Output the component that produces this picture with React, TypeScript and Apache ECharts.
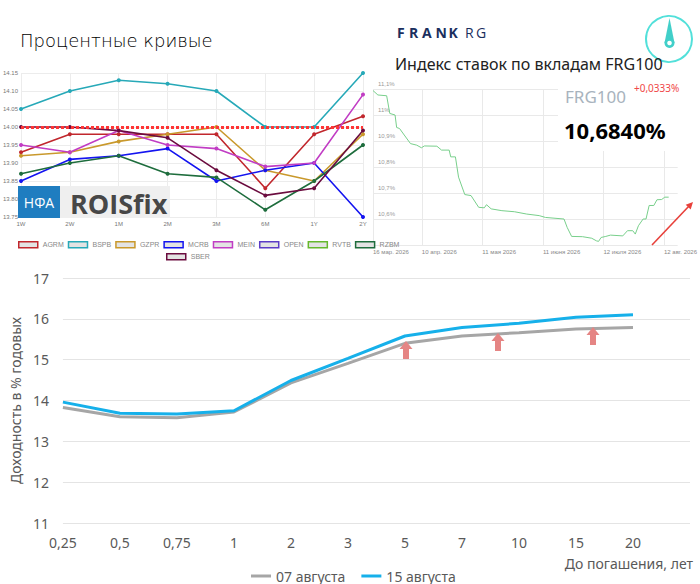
import React, { useEffect, useRef } from "react";
import * as echarts from "echarts";

// ---- Top-left: interest curves (ROISfix) ----
const tenors = ["1W", "2W", "1M", "2M", "3M", "6M", "1Y", "2Y"];
const agrm = [13.93, 13.98, 13.98, 13.98, 13.98, 13.83, 13.98, 14.03];
const bspb = [14.05, 14.1, 14.13, 14.12, 14.1, 14.0, 14.0, 14.15];
const gzpr = [13.92, 13.93, 13.96, 13.98, 14.0, 13.88, 13.85, 13.98];
const mcrb = [13.85, 13.91, 13.92, 13.94, 13.85, 13.88, 13.9, 13.75];
const mein = [13.95, 13.93, 13.99, 13.95, 13.94, 13.89, 13.9, 14.09];
const openB: number[] = [];
const rvtb: number[] = [];
const rzbm = [13.87, 13.9, 13.92, 13.87, 13.86, 13.77, 13.85, 13.95];
const sber = [14.0, 14.0, 13.99, 13.97, 13.88, 13.81, 13.83, 13.99];
const bankNames = ["AGRM", "BSPB", "GZPR", "MCRB", "MEIN", "OPEN", "RVTB", "RZBM", "SBER"];
const bankColors = ["#c1272d", "#27a9b8", "#c9992c", "#1414f0", "#c13dc4", "#5b3bc6", "#66b82d", "#1e6d3d", "#6b0c3f"];
const bankSeries = [agrm, bspb, gzpr, mcrb, mein, openB, rvtb, rzbm, sber];
const keyRate = 14.0;

// ---- Top-right: FRG100 deposit rate index ----
const frgDays = [0, 2.5, 7, 8.6, 11.3, 12.1, 13.6, 16, 19.2, 22.4, 24.8, 26.3, 32.7, 35.1, 39, 39.8, 42.2, 43.8, 47, 50.2, 54.1, 57, 58.1, 60.5, 66, 72.4, 78.7, 85.1, 88.3, 97.8, 99.4, 101.7, 107.3, 112, 114.4, 115.5, 116.8, 119.2, 121.6, 127.9, 130.3, 133, 134.3, 135.9, 138.3, 139.8, 141.4, 143.8, 145.4, 147.8, 149.4, 151.4];
const frgValues = [11.094, 11.077, 11.074, 11.006, 11.0, 10.952, 10.948, 10.923, 10.89, 10.884, 10.874, 10.881, 10.88, 10.865, 10.865, 10.839, 10.839, 10.761, 10.694, 10.69, 10.645, 10.643, 10.655, 10.639, 10.632, 10.628, 10.619, 10.613, 10.606, 10.6, 10.568, 10.533, 10.532, 10.526, 10.516, 10.514, 10.529, 10.533, 10.538, 10.535, 10.555, 10.555, 10.542, 10.574, 10.6, 10.6, 10.652, 10.652, 10.674, 10.675, 10.684, 10.684];
const frgTickDays = [0, 25, 56, 87, 118, 149];
const frgTickLabels = ["16 мар. 2026", "10 апр. 2026", "11 мая 2026", "11 июня 2026", "12 июля 2026", "12 авг. 2026"];

// ---- Bottom: yield curves ----
const maturities = ["0,25", "0,5", "0,75", "1", "2", "3", "5", "7", "10", "15", "20", ""];
const aug07 = [13.83, 13.6, 13.58, 13.72, 14.43, 14.91, 15.4, 15.58, 15.66, 15.75, 15.79];
const aug15 = [13.96, 13.69, 13.67, 13.75, 14.49, 15.03, 15.58, 15.79, 15.89, 16.04, 16.1];

const upArrow = (cx: number, top: number, bottom: number) => ({
  type: "polygon",
  z: 100,
  shape: {
    points: [
      [cx, top],
      [cx + 6.5, top + 8],
      [cx + 3, top + 8],
      [cx + 3, bottom],
      [cx - 3, bottom],
      [cx - 3, top + 8],
      [cx - 6.5, top + 8],
    ],
  },
  style: { fill: "#e58584" },
});

const frankLetters = [
  ["F", 397, true], ["R", 409, true], ["A", 422, true], ["N", 435.5, true], ["K", 448.5, true],
  ["R", 465, false], ["G", 476, false],
] as [string, number, boolean][];

const legendItem = (name: string) => {
  const i = bankNames.indexOf(name);
  return {
    name,
    icon: "rect",
    itemStyle: { color: "#e3e3e3", borderColor: bankColors[i], borderWidth: 1.5 },
  };
};

export default function App() {
  const ref = useRef<HTMLDivElement>(null);
  useEffect(() => {
    if (!ref.current) return;
    const chart = echarts.init(ref.current, undefined, { renderer: "svg" });
    const small = "Liberation Sans";
    const option: any = {
      animation: false,
      backgroundColor: "#ffffff",
      textStyle: { fontFamily: "Noto Sans" },
      grid: [
        { left: 20, top: 73, width: 343, height: 144 },
        { left: 373, top: 89, right: 0, height: 156 },
        { left: 57, top: 278, width: 633, height: 245 },
      ],
      xAxis: [
        {
          gridIndex: 0, type: "category", boundaryGap: false, data: tenors,
          axisLine: { show: false }, axisTick: { show: false },
          axisLabel: { fontSize: 6, color: "#777", margin: 4, fontFamily: small },
          splitLine: { show: true, lineStyle: { color: "#ececec" } },
        },
        {
          gridIndex: 1, type: "value", min: 0, max: 156,
          axisLine: { show: false },
          axisTick: { show: false, customValues: frgTickDays },
          axisLabel: {
            customValues: frgTickDays, fontSize: 6, color: "#888", align: "left", margin: 4, fontFamily: small,
            formatter: (v: number) => {
              const i = frgTickDays.indexOf(Math.round(v));
              return i >= 0 ? frgTickLabels[i] : "";
            },
          },
          splitLine: { show: true, lineStyle: { color: "#e9e9e9" } },
        },
        {
          gridIndex: 2, type: "category", boundaryGap: false, data: maturities,
          axisLine: { show: false }, axisTick: { show: false },
          axisLabel: { fontSize: 14, color: "#595959", margin: 12, interval: 0 },
          splitLine: { show: false },
        },
      ],
      yAxis: [
        {
          gridIndex: 0, type: "value", min: 13.75, max: 14.15, interval: 0.05,
          axisLine: { show: false }, axisTick: { show: false },
          axisLabel: { fontSize: 6, color: "#777", margin: 3, fontFamily: small, formatter: (v: number) => v.toFixed(2) },
          splitLine: { show: true, lineStyle: { color: "#ececec" } },
        },
        {
          gridIndex: 1, type: "value", min: 10.5, max: 11.1, interval: 0.1,
          axisLine: { show: false }, axisTick: { show: false },
          axisLabel: {
            inside: true, fontSize: 6, color: "#9a9a9a", margin: 5, verticalAlign: "bottom", padding: [0, 0, 2, 0], fontFamily: small,
            formatter: (v: number) => {
              if (Math.abs(v - 10.5) < 1e-6) return "";
              let s = v.toFixed(1).replace(".", ",");
              if (s.endsWith(",0")) s = s.slice(0, -2);
              return s + "%";
            },
          },
          splitLine: { show: true, lineStyle: { color: "#e9e9e9" } },
        },
        {
          gridIndex: 2, type: "value", min: 11, max: 17, interval: 1,
          axisLine: { show: false }, axisTick: { show: false },
          axisLabel: { fontSize: 14, color: "#595959", margin: 14 },
          splitLine: { show: true, lineStyle: { color: "#e4e4e4", width: 1 } },
          name: "Доходность в % годовых", nameLocation: "middle", nameGap: 32,
          nameTextStyle: { fontSize: 14, color: "#595959" },
        },
      ],
      legend: [
        {
          data: bankNames.slice(0, 8).map(legendItem), left: 13, top: 236,
          itemWidth: 19, itemHeight: 6, itemGap: 4,
          textStyle: { fontSize: 7, color: "#888", fontFamily: small },
        },
        {
          data: ["SBER"].map(legendItem), left: 161, top: 248,
          itemWidth: 19, itemHeight: 6, itemGap: 4,
          textStyle: { fontSize: 7, color: "#888", fontFamily: small },
        },
        {
          data: ["07 августа", "15 августа"], left: 246, top: 564, icon: "rect",
          itemWidth: 20, itemHeight: 3, itemGap: 16,
          textStyle: { fontSize: 14, color: "#595959" },
        },
      ],
      series: [
        ...bankNames.map((name, i) => ({
          name, type: "line", xAxisIndex: 0, yAxisIndex: 0, data: bankSeries[i],
          color: bankColors[i], symbol: "circle", symbolSize: 4,
          lineStyle: { width: 1.6, color: bankColors[i] },
          itemStyle: { color: bankColors[i] },
          ...(i === 0
            ? {
                markLine: {
                  silent: true, symbol: "none", label: { show: false },
                  data: [{ yAxis: keyRate }],
                  lineStyle: { color: "#ff3434", width: 3, type: [3, 2] },
                },
              }
            : {}),
        })),
        {
          name: "FRG100", type: "line", xAxisIndex: 1, yAxisIndex: 1,
          data: frgDays.map((d, i) => [d, frgValues[i]]),
          symbol: "none", lineStyle: { width: 1, color: "#78cf8b" }, color: "#78cf8b",
        },
        {
          name: "07 августа", type: "line", xAxisIndex: 2, yAxisIndex: 2, data: aug07,
          symbol: "none", color: "#a6a6a6", lineStyle: { width: 3, color: "#a6a6a6" },
        },
        {
          name: "15 августа", type: "line", xAxisIndex: 2, yAxisIndex: 2, data: aug15,
          symbol: "none", color: "#16b0ea", lineStyle: { width: 3, color: "#16b0ea" },
        },
      ],
      graphic: [
        {
          type: "text", left: 20, top: 31, z: 100,
          style: { text: "Процентные кривые", fontSize: 18, fontWeight: 300, fill: "#000", fontFamily: "DejaVu Sans" },
        },
        { type: "rect", z: 100, shape: { x: 18, y: 186, width: 42, height: 32 }, style: { fill: "#1f7dc0" } },
        {
          type: "text", z: 101, x: 39, y: 202,
          style: { text: "НФА", fontSize: 14, fill: "#fff", align: "center", verticalAlign: "middle", fontFamily: "Open Sans" },
        },
        { type: "rect", z: 100, shape: { x: 60, y: 186, width: 110, height: 32 }, style: { fill: "#efefef" } },
        {
          type: "text", z: 101, x: 70, y: 203,
          style: { text: "ROISfix", fontSize: 27, fontWeight: "bold", fill: "#474747", verticalAlign: "middle", fontFamily: "Open Sans" },
        },
        ...frankLetters.map(([ch, x, bold]) => ({
          type: "text", z: 100, x, y: 32,
          style: {
            text: ch, fontSize: 14, fontWeight: bold ? "bold" : "normal", fill: "#1b2f5e",
            verticalAlign: "middle", fontFamily: "Open Sans",
          },
        })),
        {
          type: "circle", z: 100, shape: { cx: 669, cy: 39, r: 23 },
          style: { fill: "none", stroke: "#52e0da", lineWidth: 2 },
        },
        {
          type: "polygon", z: 100,
          shape: { points: [[669.5, 18], [674.5, 43], [664.5, 43]] },
          style: { fill: "#41cfc9" },
        },
        { type: "circle", z: 100, shape: { cx: 669.5, cy: 43, r: 5 }, style: { fill: "#41cfc9" } },
        { type: "circle", z: 101, shape: { cx: 669.5, cy: 43, r: 2.3 }, style: { fill: "#ffffff" } },
        {
          type: "text", z: 100, x: 395, y: 64,
          style: { text: "Индекс ставок по вкладам FRG100", fontSize: 16, fill: "#222", verticalAlign: "middle", fontFamily: "Noto Sans" },
        },
        { type: "rect", z: 100, shape: { x: 558, y: 80, width: 125, height: 71 }, style: { fill: "#ffffff" } },
        {
          type: "text", z: 101, x: 565, y: 96,
          style: { text: "FRG100", fontSize: 17, fill: "#a8b3bd", verticalAlign: "middle", fontFamily: "Noto Sans" },
        },
        {
          type: "text", z: 101, x: 634, y: 88,
          style: { text: "+0,0333%", fontSize: 10, fill: "#f04848", verticalAlign: "middle", fontFamily: "Noto Sans" },
        },
        {
          type: "text", z: 101, x: 564, y: 130,
          style: { text: "10,6840%", fontSize: 22, fontWeight: "bold", fill: "#000", verticalAlign: "middle", fontFamily: "Noto Sans" },
        },
        {
          type: "line", z: 100, shape: { x1: 652, y1: 245, x2: 690, y2: 205 },
          style: { stroke: "#e8413b", lineWidth: 1.6 },
        },
        {
          type: "polygon", z: 100,
          shape: { points: [[693, 202], [690.7, 209.5], [685.7, 204.7]] },
          style: { fill: "#e8413b" },
        },
        upArrow(406, 341, 359),
        upArrow(498, 333, 351),
        upArrow(593, 327, 345),
        {
          type: "text", z: 100, x: 693, y: 563,
          style: { text: "До погашения, лет", fontSize: 14, fill: "#595959", align: "right", verticalAlign: "middle", fontFamily: "Noto Sans" },
        },
      ],
    };
    chart.setOption(option);
    return () => chart.dispose();
  }, []);
  return (
    <div
      ref={ref}
      style={{ position: "fixed", left: 0, top: 0, width: 700, height: 584, background: "#fff" }}
    />
  );
}
